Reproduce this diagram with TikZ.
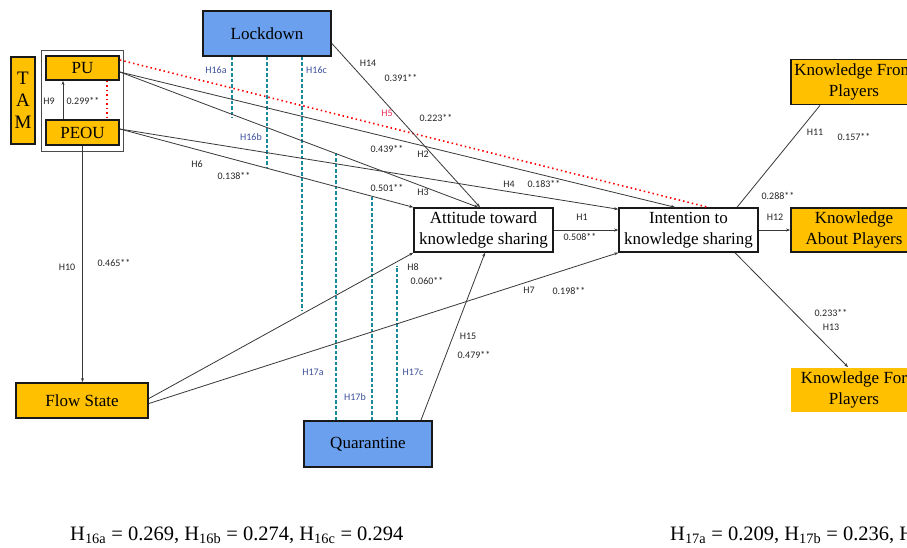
\documentclass[tikz,border=0pt]{standalone}
\usepackage{fontspec}
\setmainfont{Liberation Serif}
\newfontfamily\labfont{Carlito}
\usetikzlibrary{arrows.meta,calc}
\definecolor{orng}{RGB}{255,192,0}
\definecolor{bluebox}{RGB}{106,160,238}
\definecolor{tealdash}{RGB}{24,138,156}
\definecolor{hblue}{RGB}{60,80,155}
\definecolor{hred}{RGB}{235,50,90}
\begin{document}
\begin{tikzpicture}[x=1pt,y=-1pt,
  nbox/.style={draw=black!90,line width=1.8pt,inner sep=0pt,align=center,font=\fontsize{17}{20.5}\selectfont},
  obox/.style={nbox,fill=orng},
  bbox/.style={nbox,fill=bluebox},
  wbox/.style={nbox,fill=white,line width=1.5pt},
  conn/.style={draw=black!78,line width=0.8pt},
  arr/.style={conn,-{Stealth[length=4pt,width=3pt]}},
  moddash/.style={draw=tealdash,line width=1.8pt,dash pattern=on 3.5pt off 2pt},
  reddots/.style={draw=red,line width=1.6pt,dash pattern=on 1.5pt off 3pt},
  lab/.style={font=\labfont\fontsize{10}{12}\selectfont,inner sep=0pt,text=black!85},
  hlab/.style={lab,text=hblue},
]
\useasboundingbox (0,0) rectangle (907,547);
\fill[white] (0,0) rectangle (907,547);
\clip (0,0) rectangle (907,547);

% nodes
\node[draw=black!70,line width=0.6pt,minimum width=82pt,minimum height=101pt] (tamframe) at (82,100.5) {};
\node[obox,minimum width=24pt,minimum height=87pt,font=\fontsize{19}{22}\selectfont] (tam) at (23,100.5) {T\\A\\M};
\node[obox,minimum width=73pt,minimum height=24pt] (pu) at (82.5,68) {PU};
\node[obox,minimum width=73pt,minimum height=25pt] (peou) at (82.5,132.5) {PEOU};
\node[bbox,minimum width=128pt,minimum height=45pt] (lock) at (267,33.5) {Lockdown};
\node[wbox,minimum width=139pt,minimum height=44pt] (att) at (483.5,230) {Attitude toward\\knowledge sharing};
\node[wbox,minimum width=139pt,minimum height=44pt] (int) at (688.5,230) {Intention to\\knowledge sharing};
\node[obox,minimum width=126pt,minimum height=45pt] (kfp) at (854,82) {Knowledge From\\Players};
\node[obox,minimum width=126pt,minimum height=44pt] (kap) at (854,230) {Knowledge\\About Players};
\node[obox,draw=none,minimum width=126pt,minimum height=44pt] (kfo) at (854,390) {Knowledge For\\Players};
\node[obox,minimum width=132pt,minimum height=35pt] (flow) at (82,400.5) {Flow State};
\node[bbox,minimum width=128pt,minimum height=46pt] (quar) at (368,444) {Quarantine};

% moderator dashed lines
\coordinate (la) at (232,118);
\coordinate (lb) at (267,168);
\coordinate (lc) at (302,310);
\coordinate (qa) at (336,153);
\coordinate (qb) at (372,195);
\coordinate (qc) at (397,266);
\draw[moddash] ([xshift=-35pt]lock.south) -- (la);
\draw[moddash] (lock.south) -- (lb);
\draw[moddash] ([xshift=35pt]lock.south) -- (lc);
\draw[moddash] ([xshift=-32pt]quar.north) -- (qa);
\draw[moddash] ([xshift=4pt]quar.north) -- (qb);
\draw[moddash] ([xshift=29pt]quar.north) -- (qc);

% red dotted
\draw[reddots] ([yshift=8pt]pu.east) -- ([xshift=19.5pt]int.north);
\draw[reddots] ([xshift=24.5pt]pu.south) -- ([xshift=24.5pt]peou.north);

% connectors
\draw[arr] ([xshift=-19.5pt]peou.north) -- ([xshift=-19.5pt]pu.south);
\draw[arr] (peou.south) -- (peou.south |- flow.north);
\draw[arr] ([yshift=-4pt]pu.east) -- ([xshift=-13.5pt]int.north);
\draw[arr] ([yshift=-4pt]pu.east) -- ([xshift=-5.5pt]att.north);
\draw[arr] ([yshift=3.5pt]peou.east) -- ([yshift=-2pt]int.north west);
\draw[arr] ([yshift=3.5pt]peou.east) -- (att.north west);
\draw[arr] ([yshift=-10pt]lock.east) -- ([xshift=-3.5pt]att.north);
\draw[arr] (att.east) -- (int.west);
\draw[arr] ([yshift=2pt]flow.east) -- (att.south west);
\draw[arr] ([yshift=-3pt]flow.east) -- (int.south west);
\draw[arr] ([xshift=53pt]quar.north) -- ([xshift=1.5pt]att.south);
\draw[conn] ([xshift=48.5pt]int.north) -- ([xshift=-34pt]kfp.south);
\draw[arr] (int.east) -- (kap.west);
\draw[arr] ([xshift=46.5pt]int.south) -- ([xshift=-6pt]kfo.north);

% labels
\node[hlab] (l16a) at (216,70) {H16a};
\node[hlab] (l16b) at (251,137) {H16b};
\node[hlab] (l16c) at (316.5,70) {H16c};
\node[hlab] (l17a) at (313,372) {H17a};
\node[hlab] (l17b) at (355,397) {H17b};
\node[hlab] (l17c) at (413,372) {H17c};
\node[lab] (h9) at (49,101) {H9};
\node[lab] (v9) at (83,101) {0.299**};
\node[lab] (h10) at (67,267) {H10};
\node[lab] (v10) at (114,263) {0.465**};
\node[lab] (h14) at (368,63) {H14};
\node[lab] (v14) at (401,78) {0.391**};
\node[lab,text=hred] (h5) at (387,113) {H5};
\node[lab] (v5) at (436,118) {0.223**};
\node[lab] (v2) at (387,149) {0.439**};
\node[lab] (h2) at (423,154) {H2};
\node[lab] (h6) at (197,164) {H6};
\node[lab] (v6) at (234,176) {0.138**};
\node[lab] (v3) at (387,188) {0.501**};
\node[lab] (h3) at (423,192) {H3};
\node[lab] (h4) at (509,184) {H4};
\node[lab] (v4) at (544,184) {0.183**};
\node[lab] (h11) at (815,132) {H11};
\node[lab] (v11) at (854,137) {0.157**};
\node[lab] (v12) at (778,196) {0.288**};
\node[lab] (h12) at (775,217) {H12};
\node[lab] (h1) at (582,217) {H1};
\node[lab] (v1) at (580,237) {0.508**};
\node[lab] (h8) at (413,267) {H8};
\node[lab] (v8) at (427,281) {0.060**};
\node[lab] (h7) at (529,290) {H7};
\node[lab] (v7) at (569,291) {0.198**};
\node[lab] (h15) at (468,336) {H15};
\node[lab] (v15) at (474,355) {0.479**};
\node[lab] (v13) at (831,313) {0.233**};
\node[lab] (h13) at (831,327) {H13};

% bottom notes
\node[anchor=base west,inner sep=0pt,font=\fontsize{20.5}{24}\selectfont] (n16) at (70,540) {H\textsubscript{16a} = 0.269, H\textsubscript{16b} = 0.274, H\textsubscript{16c} = 0.294};
\node[anchor=base west,inner sep=0pt,font=\fontsize{20.5}{24}\selectfont] (n17) at (670,540) {H\textsubscript{17a} = 0.209, H\textsubscript{17b} = 0.236, H\textsubscript{17c}};
\end{tikzpicture}
\end{document}
